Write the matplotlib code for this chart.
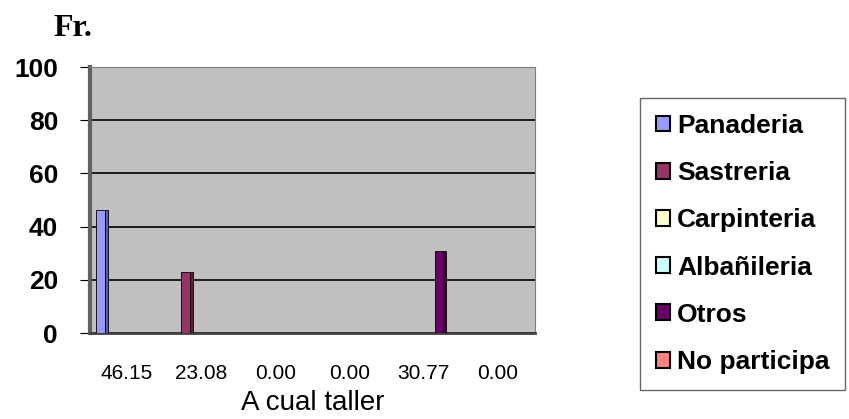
import matplotlib.pyplot as plt
import numpy as np
from matplotlib.patches import Patch

categories = ["46.15", "23.08", "0.00", "0.00", "30.77", "0.00"]
series_names = ["Panaderia", "Sastreria", "Carpinteria", "Albañileria", "Otros", "No participa"]
# one row per series, one column per category
values = [
    [46.15, 0, 0, 0, 0, 0],
    [0, 23.08, 0, 0, 0, 0],
    [0, 0, 0, 0, 0, 0],
    [0, 0, 0, 0, 0, 0],
    [0, 0, 0, 0, 30.77, 0],
    [0, 0, 0, 0, 0, 0],
]
colors = ["#9999ff", "#993366", "#ffffcc", "#ccffff", "#660066", "#ff8080"]
side_colors = ["#5c5c99", "#5c1f3d", "#99997a", "#7a9999", "#3d003d", "#994d4d"]

fig = plt.figure(figsize=(8.49, 4.19), dpi=100)
ax = fig.add_axes([0.106, 0.205, 0.524, 0.635])
ax.set_facecolor("#c0c0c0")

x = np.arange(len(categories))
w = 0.14
for i, name in enumerate(series_names):
    xs = x + (i - 2.5) * w
    # darker side face for a simple 3D look
    ax.bar(xs + w * 0.4, values[i], width=w * 0.3, align="edge", color=side_colors[i],
           edgecolor="black", linewidth=0.6, zorder=3)
    ax.bar(xs - w * 0.45, values[i], width=w * 0.85, align="edge", color=colors[i],
           edgecolor="black", linewidth=0.6, zorder=4)

ax.set_xlim(-0.5, len(categories) - 0.5)
ax.set_ylim(0, 100)
ax.set_yticks([0, 20, 40, 60, 80, 100])
ax.yaxis.grid(True, color="black", linewidth=1.2, zorder=1)
ax.set_axisbelow(True)

for s in ["top", "right"]:
    ax.spines[s].set_color("#808080")
ax.spines["bottom"].set_color("#404040")
ax.spines["bottom"].set_linewidth(2)
ax.spines["left"].set_color("#606060")
ax.spines["left"].set_linewidth(3)

ax.set_xticks(x)
ax.set_xticklabels(categories, fontsize=15, family="Liberation Sans")
ax.tick_params(axis="x", length=0, pad=22)
ax.tick_params(axis="y", length=7, direction="out", labelsize=19, pad=16)
for lbl in ax.get_yticklabels():
    lbl.set_fontweight("bold")
    lbl.set_family("Liberation Sans")

ax.set_xlabel("A cual taller", fontsize=20, family="Liberation Sans", labelpad=5)
fig.text(0.063, 0.915, "Fr.", fontsize=23, fontweight="bold", family="Liberation Serif")

handles = [Patch(facecolor=c, edgecolor="black", linewidth=1.5) for c in colors]
leg = fig.legend(handles, series_names, loc="upper left", bbox_to_anchor=(0.754, 0.766),
                 prop={"family": "Liberation Sans", "weight": "bold", "size": 19},
                 frameon=True, fancybox=False, edgecolor="#404040", borderpad=0.6,
                 labelspacing=0.88, handlelength=0.55, handleheight=0.55, handletextpad=0.25,
                 borderaxespad=0)
leg.get_frame().set_linewidth(1.0)

fig.savefig("out.png", dpi=100)
